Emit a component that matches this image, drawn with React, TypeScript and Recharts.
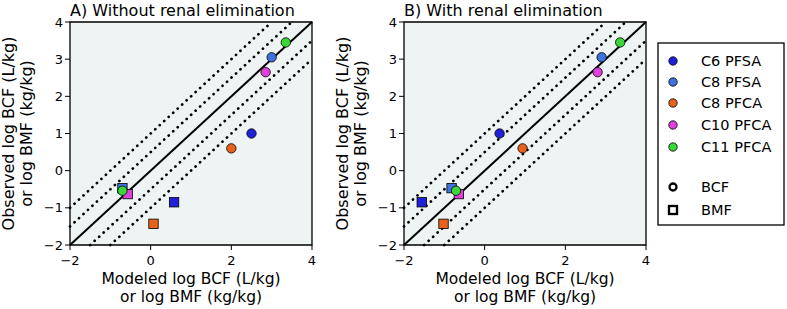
import { ScatterChart, Scatter, XAxis, YAxis, ReferenceLine, ReferenceArea, Label } from "recharts";

const speciesNames = ["C6 PFSA", "C8 PFSA", "C8 PFCA", "C10 PFCA", "C11 PFCA"];
const speciesColors = ["#2020d8", "#3f72da", "#e8621e", "#e040dc", "#3ad63a"];

// observed values are the same in both panels
const bcfObserved = [1.0, 3.05, 0.6, 2.65, 3.45];
const bmfObserved = [-0.85, -0.47, -1.43, -0.63, -0.54];

const bcfModeledA = [2.5, 3.0, 2.0, 2.85, 3.35];
const bmfModeledA = [0.58, -0.7, 0.07, -0.57, -0.7];

const bcfModeledB = [0.37, 2.9, 0.94, 2.8, 3.36];
const bmfModeledB = [-1.56, -0.82, -1.02, -0.64, -0.71];

const axisTicks = [-2, -1, 0, 1, 2, 3, 4];
const xTicks = [-2, 0, 2, 4];

const font = "DejaVu Sans, sans-serif";
const fmt = (v: number) => (v < 0 ? `\u2212${-v}` : `${v}`);

const circle = (color: string) => (p: any) => (
  <circle cx={p.cx} cy={p.cy} r={4.7} fill={color} stroke="#000" strokeWidth={0.8} />
);
const square = (color: string) => (p: any) => (
  <rect x={p.cx - 4.7} y={p.cy - 4.7} width={9.4} height={9.4} fill={color} stroke="#000" strokeWidth={0.8} />
);

const dotted = { stroke: "#000", strokeWidth: 2.7, strokeDasharray: "0.1 6", strokeLinecap: "round" as const };

function Panel({ title, bcfModeled, bmfModeled }: { title: string; bcfModeled: number[]; bmfModeled: number[] }) {
  const yLabel = ({ viewBox }: any) => {
    const cy = viewBox.y + viewBox.height / 2;
    return (
      <g fontFamily={font} fontSize={16} fill="#000">
        <text x={14} y={cy} textAnchor="middle" transform={`rotate(-90, 14, ${cy})`}>
          Observed log BCF (L/kg)
        </text>
        <text x={32} y={cy} textAnchor="middle" transform={`rotate(-90, 32, ${cy})`}>
          or log BMF (kg/kg)
        </text>
      </g>
    );
  };
  const xLabel = ({ viewBox }: any) => {
    const cx = viewBox.x + viewBox.width / 2;
    return (
      <g fontFamily={font} fill="#000">
        <text x={cx} y={284} fontSize={15.5} textAnchor="middle">Modeled log BCF (L/kg)</text>
        <text x={cx} y={302} fontSize={15.5} textAnchor="middle">or log BMF (kg/kg)</text>
        <text x={viewBox.x} y={16} fontSize={16}>{title}</text>
      </g>
    );
  };

  return (
    <ScatterChart width={330} height={309} margin={{ top: 22, right: 18, bottom: 0, left: 0 }}>
      <XAxis
        type="number"
        dataKey="x"
        domain={[-2, 4]}
        ticks={xTicks}
        tickFormatter={fmt}
        height={64}
        axisLine={false}
        tickLine={{ stroke: "#000" }}
        tickSize={5}
        tickMargin={6}
        tick={{ fill: "#000", fontSize: 13, fontFamily: font }}
      >
        <Label content={xLabel} />
      </XAxis>
      <YAxis
        type="number"
        dataKey="y"
        domain={[-2, 4]}
        ticks={axisTicks}
        tickFormatter={fmt}
        width={70}
        axisLine={false}
        tickLine={{ stroke: "#000" }}
        tickSize={5}
        tick={{ fill: "#000", fontSize: 13, fontFamily: font }}
      >
        <Label content={yLabel} />
      </YAxis>
      <ReferenceArea x1={-2} x2={4} y1={-2} y2={4} fill="#eef4f4" fillOpacity={1} stroke="#000" strokeWidth={1.3} />
      <ReferenceLine segment={[{ x: -2, y: -1 }, { x: 3, y: 4 }]} ifOverflow="visible" {...dotted} />
      <ReferenceLine segment={[{ x: -2, y: -1.5 }, { x: 3.5, y: 4 }]} ifOverflow="visible" {...dotted} />
      <ReferenceLine segment={[{ x: -1.5, y: -2 }, { x: 4, y: 3.5 }]} ifOverflow="visible" {...dotted} />
      <ReferenceLine segment={[{ x: -1, y: -2 }, { x: 4, y: 3 }]} ifOverflow="visible" {...dotted} />
      <ReferenceLine segment={[{ x: -2, y: -2 }, { x: 4, y: 4 }]} ifOverflow="visible" stroke="#000" strokeWidth={2} />
      {speciesNames.slice(0, 4).map((name, i) => (
        <Scatter
          key={`bmf-${name}`}
          data={[{ x: bmfModeled[i], y: bmfObserved[i] }]}
          shape={square(speciesColors[i])}
          isAnimationActive={false}
        />
      ))}
      {speciesNames.map((name, i) => (
        <Scatter
          key={`bcf-${name}`}
          data={[{ x: bcfModeled[i], y: bcfObserved[i] }]}
          shape={circle(speciesColors[i])}
          isAnimationActive={false}
        />
      ))}
      <Scatter
        data={[{ x: bmfModeled[4], y: bmfObserved[4] }]}
        shape={circle(speciesColors[4])}
        isAnimationActive={false}
      />
    </ScatterChart>
  );
}

function LegendBox() {
  const rows = [19, 40, 61, 83, 105];
  return (
    <svg width={128} height={184} style={{ position: "absolute", left: 657, top: 42 }}>
      <rect x={1} y={1} width={126} height={182} fill="#fff" stroke="#000" strokeWidth={1.3} />
      <g fontFamily={font} fontSize={14.5} fill="#000">
        {speciesNames.map((name, i) => (
          <g key={name}>
            <circle cx={16} cy={rows[i]} r={4.2} fill={speciesColors[i]} stroke="#000" strokeWidth={0.8} />
            <text x={44} y={rows[i] + 5}>{name}</text>
          </g>
        ))}
        <circle cx={16} cy={145} r={3.5} fill="#fff" stroke="#000" strokeWidth={2.3} />
        <text x={44} y={150}>BCF</text>
        <rect x={12} y={164} width={8} height={8} fill="#fff" stroke="#000" strokeWidth={2.3} />
        <text x={44} y={173}>BMF</text>
      </g>
    </svg>
  );
}

export default function App() {
  return (
    <div style={{ position: "absolute", left: 0, top: 0, width: 787, height: 309, background: "#fff" }}>
      <div style={{ position: "absolute", left: 0, top: 0 }}>
        <Panel title="A) Without renal elimination" bcfModeled={bcfModeledA} bmfModeled={bmfModeledA} />
      </div>
      <div style={{ position: "absolute", left: 334, top: 0 }}>
        <Panel title="B) With renal elimination" bcfModeled={bcfModeledB} bmfModeled={bmfModeledB} />
      </div>
      <LegendBox />
    </div>
  );
}
